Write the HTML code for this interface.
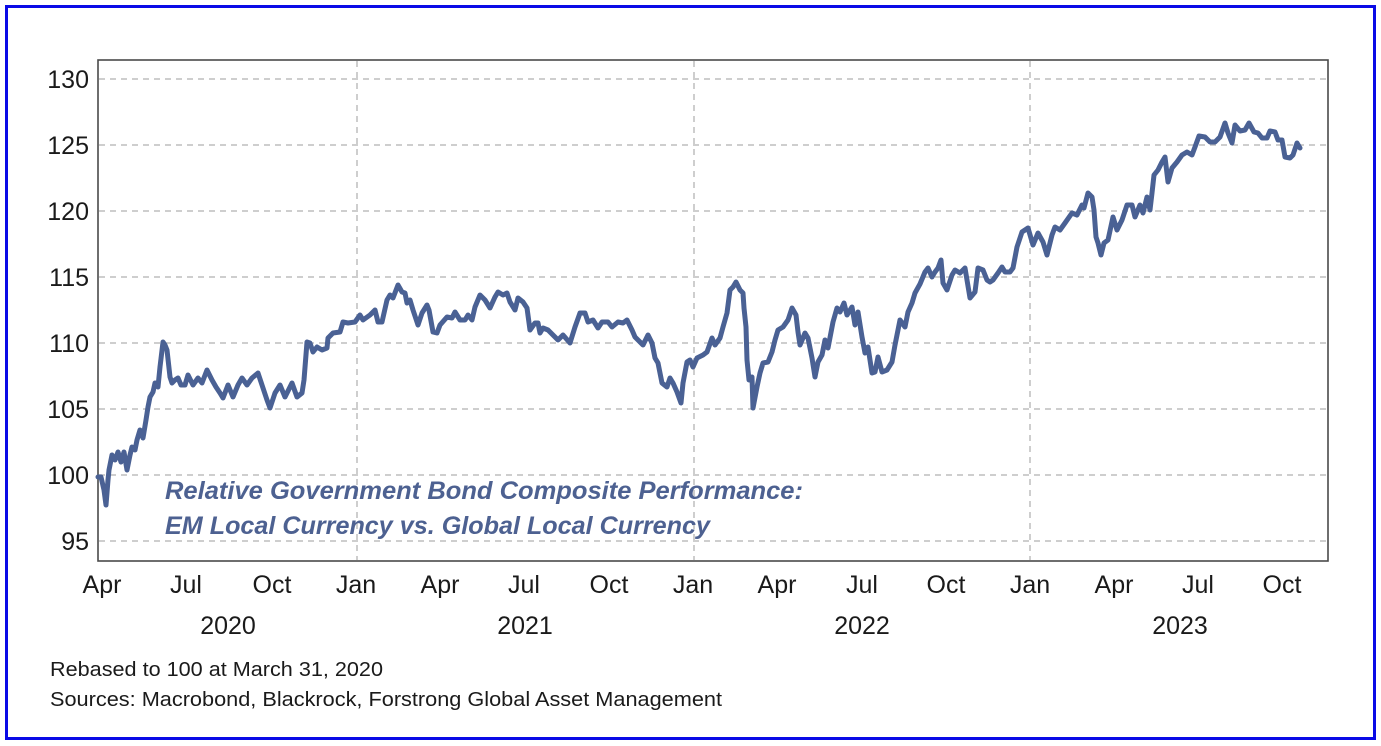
<!DOCTYPE html>
<html>
<head>
<meta charset="utf-8">
<style>
  html, body { margin: 0; padding: 0; background: #ffffff; }
  body { width: 1381px; height: 746px; overflow: hidden; }
  svg { display: block; }
  text { font-family: "Liberation Sans", Arial, sans-serif; }
</style>
</head>
<body>
<svg width="1381" height="746" viewBox="0 0 1381 746" xmlns="http://www.w3.org/2000/svg">
  <rect x="0" y="0" width="1381" height="746" fill="#ffffff"/>
  <!-- blue border -->
  <rect x="6.5" y="6.5" width="1368" height="732" fill="none" stroke="#0a0ae6" stroke-width="3"/>

  <!-- horizontal grid -->
  <g stroke="#bdbdbd" stroke-width="1.5" stroke-dasharray="6,5">
    <line x1="99" y1="79" x2="1327" y2="79"/>
    <line x1="99" y1="145" x2="1327" y2="145"/>
    <line x1="99" y1="211" x2="1327" y2="211"/>
    <line x1="99" y1="277" x2="1327" y2="277"/>
    <line x1="99" y1="343" x2="1327" y2="343"/>
    <line x1="99" y1="409" x2="1327" y2="409"/>
    <line x1="99" y1="475" x2="1327" y2="475"/>
    <line x1="99" y1="541" x2="1327" y2="541"/>
  </g>
  <!-- vertical grid -->
  <g stroke="#bdbdbd" stroke-width="1.5" stroke-dasharray="6,5">
    <line x1="357" y1="61" x2="357" y2="560"/>
    <line x1="694" y1="61" x2="694" y2="560"/>
    <line x1="1030" y1="61" x2="1030" y2="560"/>
  </g>

  <!-- plot frame -->
  <rect x="98" y="60" width="1230" height="501" fill="none" stroke="#4a4a4a" stroke-width="1.6"/>

  <!-- y tick labels -->
  <g font-size="25" fill="#1a1a1a" text-anchor="end">
    <text x="89" y="88">130</text>
    <text x="89" y="154">125</text>
    <text x="89" y="220">120</text>
    <text x="89" y="286">115</text>
    <text x="89" y="352">110</text>
    <text x="89" y="418">105</text>
    <text x="89" y="484">100</text>
    <text x="89" y="550">95</text>
  </g>

  <!-- x tick labels -->
  <g font-size="25" fill="#1a1a1a" text-anchor="middle">
    <text x="102" y="593">Apr</text>
    <text x="186" y="593">Jul</text>
    <text x="272" y="593">Oct</text>
    <text x="356" y="593">Jan</text>
    <text x="440" y="593">Apr</text>
    <text x="524" y="593">Jul</text>
    <text x="609" y="593">Oct</text>
    <text x="693" y="593">Jan</text>
    <text x="777" y="593">Apr</text>
    <text x="862" y="593">Jul</text>
    <text x="946" y="593">Oct</text>
    <text x="1030" y="593">Jan</text>
    <text x="1114" y="593">Apr</text>
    <text x="1198" y="593">Jul</text>
    <text x="1282" y="593">Oct</text>
    <text x="228" y="634">2020</text>
    <text x="525" y="634">2021</text>
    <text x="862" y="634">2022</text>
    <text x="1180" y="634">2023</text>
  </g>

  <!-- series -->
  <polyline fill="none" stroke="#4a6194" stroke-width="5" stroke-linejoin="round" stroke-linecap="round"
    points="98,477 101,477 104,490 106,505 108,480 109,470 112,455 115,460 118,452 121,462 124,452 127,470 130,455 132,447 135,450 137,440 140,430 143,438 146,420 148,407 150,397 153,392 155,383 158,387 160,367 163,342 165,345 167,350 170,377 172,383 175,380 178,378 181,385 185,385 188,375 193,385 198,378 202,383 207,370 212,380 216,387 220,393 223,398 228,385 233,397 238,385 242,378 247,385 252,378 258,373 262,385 267,400 270,408 275,393 280,385 285,397 292,383 297,397 302,393 304,380 307,342 310,343 313,352 317,347 322,350 327,348 328,338 333,333 340,332 343,322 348,323 355,322 360,315 363,320 370,315 375,310 378,322 382,322 387,300 390,295 393,298 398,285 402,292 405,293 407,303 410,300 413,310 418,325 422,313 427,305 429,310 433,332 437,333 440,325 447,317 452,318 455,312 460,320 465,320 468,315 472,320 475,307 480,295 485,300 490,308 495,297 498,292 503,295 507,293 510,302 515,310 518,298 523,302 527,308 530,330 535,323 538,323 540,333 543,328 548,330 553,335 558,340 563,335 570,343 575,327 580,313 585,313 588,322 593,320 598,328 602,322 608,322 612,327 618,322 623,323 627,320 632,330 635,337 638,340 643,345 648,335 652,343 655,358 658,363 662,383 667,387 670,378 673,383 677,392 681,403 683,383 687,362 690,360 693,367 697,358 703,355 707,352 712,338 715,345 720,338 723,327 727,313 730,290 733,287 736,282 740,290 743,293 744,308 746,327 747,360 749,380 752,377 753,408 757,387 760,373 763,363 768,362 772,352 775,340 778,330 783,327 788,320 792,308 796,315 798,332 800,345 805,333 808,338 812,358 815,377 818,362 822,355 825,340 828,348 833,322 837,308 840,312 844,303 847,315 852,307 855,325 858,312 862,337 865,353 868,347 872,373 875,372 878,357 882,372 887,370 892,362 895,345 900,320 905,327 908,312 912,303 915,293 920,284 925,272 928,268 932,277 935,272 938,268 941,260 943,283 947,290 952,275 955,270 960,273 965,268 970,298 975,292 978,268 983,270 987,280 990,282 993,280 998,273 1002,267 1005,272 1010,272 1013,268 1017,247 1022,232 1028,228 1033,245 1038,233 1043,242 1047,255 1052,235 1055,227 1060,230 1065,223 1072,213 1077,215 1082,205 1084,208 1088,193 1092,197 1094,210 1096,237 1098,243 1101,255 1104,243 1108,240 1113,217 1117,230 1122,220 1127,205 1132,205 1135,217 1140,205 1143,213 1147,197 1150,210 1152,193 1154,175 1158,170 1162,162 1165,157 1168,182 1172,168 1177,162 1182,155 1187,152 1192,155 1195,147 1199,136 1205,137 1210,142 1215,142 1220,137 1225,123 1228,133 1232,143 1235,125 1240,131 1245,130 1249,123 1254,132 1258,133 1262,138 1267,138 1270,131 1275,132 1278,140 1282,140 1285,157 1290,158 1293,155 1297,143 1300,148"/>

  <!-- annotation -->
  <g font-size="25" font-weight="bold" font-style="italic" fill="#4d6191">
    <text x="165" y="499" textLength="638" lengthAdjust="spacingAndGlyphs">Relative Government Bond Composite Performance:</text>
    <text x="165" y="534" textLength="545" lengthAdjust="spacingAndGlyphs">EM Local Currency vs. Global Local Currency</text>
  </g>

  <!-- footnotes -->
  <g font-size="20" fill="#1a1a1a">
    <text x="50" y="676" textLength="333" lengthAdjust="spacingAndGlyphs">Rebased to 100 at March 31, 2020</text>
    <text x="50" y="706" textLength="672" lengthAdjust="spacingAndGlyphs">Sources: Macrobond, Blackrock, Forstrong Global Asset Management</text>
  </g>
</svg>
</body>
</html>
